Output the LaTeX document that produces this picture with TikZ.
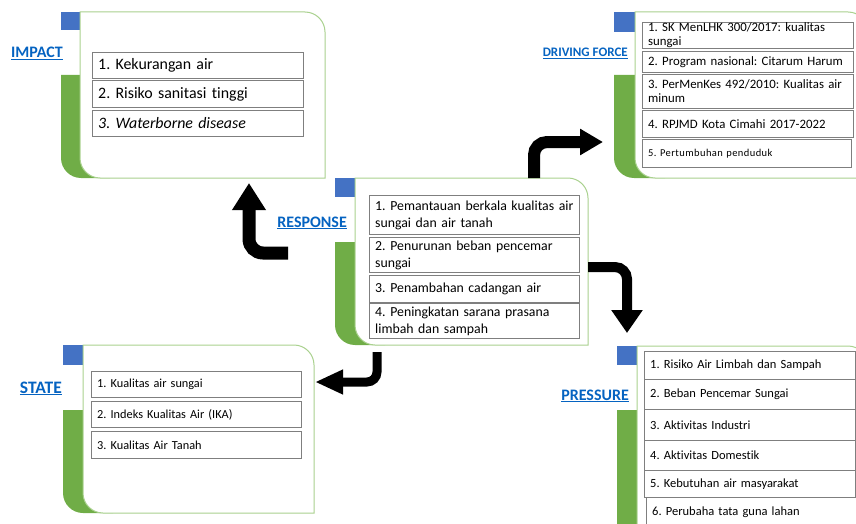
\documentclass[tikz,border=0pt]{standalone}
\usepackage{fontspec}
\setmainfont{Carlito}[Ligatures=NoCommon]
\usetikzlibrary{arrows.meta}
\frenchspacing

\definecolor{sqblue}{HTML}{4472C4}
\definecolor{bargreen}{HTML}{70AD47}
\definecolor{edgegreen}{HTML}{A9D18E}
\definecolor{labelblue}{HTML}{0563C1}
\definecolor{itemgray}{HTML}{7F7F7F}

\tikzset{
  paneledge/.style={draw=edgegreen, line width=1pt, fill=white},
  itembox/.style={draw=itemgray, line width=1pt, fill=white, anchor=north west, inner sep=0pt},
  itemtext/.style={anchor=west, inner xsep=0pt, inner ysep=0pt, align=left, text=black},
  dlabel/.style={text=labelblue, font=\fontsize{16}{19}\selectfont\bfseries, anchor=base east, inner sep=0pt},
  bigarrow/.style={draw=black, line cap=butt},
}

% Bracket panel: blue tab, green bar and white rounded card.
% #1 tab left, #2 card left, #3 top, #4 card right, #5 bottom, #6 tab bottom, #7 bar top
\newcommand\dpsirpanel[7]{%
  \fill[sqblue] (#1,#3) rectangle (#2,#6);
  \fill[bargreen] (#1,#7) -- ({#2+30},#7) -- ({#2+30},#5) -- ({#1+20},#5)
     .. controls ({#1+9},#5) and (#1,{#5-9}) .. (#1,{#5-20}) -- cycle;
  \draw[paneledge] (#2,#3) -- ({#4-20},#3)
     .. controls ({#4-9},#3) and (#4,{#3+9}) .. (#4,{#3+20}) -- (#4,#5) -- ({#2+20},#5)
     .. controls ({#2+9},#5) and (#2,{#5-9}) .. (#2,{#5-20}) -- cycle;
}

% List entry: #1 name, #2 left, #3 top, #4 right, #5 bottom, #6 text
\newcommand\listentry[6]{%
  \pgfmathsetmacro\entw{#4-#2}%
  \pgfmathsetmacro\enth{#5-#3}%
  \pgfmathsetmacro\entt{#4-#2-11}%
  \node[itembox, minimum width=\entw pt, minimum height=\enth pt] (#1) at (#2,#3) {};
  \node[itemtext, text width=\entt pt] (#1t) at ([xshift=6pt]#1.west) {#6};
}

\begin{document}
\begin{tikzpicture}[x=1pt, y=-1pt]
\useasboundingbox (0,0) rectangle (856,524);
\clip (0,0) rectangle (856,524);

% panels
\dpsirpanel{61}{80}{12}{325}{178}{30}{75}
\dpsirpanel{614}{635}{12}{868}{178}{32}{75}
\dpsirpanel{335}{355}{178}{588}{345}{197}{242}
\dpsirpanel{63}{83}{345}{314}{513}{365}{410}
\dpsirpanel{617}{637}{346}{868}{545}{365}{410}

% IMPACT
\node[dlabel] (impact) at (63,58) {\underline{IMPACT}};
\begin{scope}[font=\fontsize{15.9}{18}\selectfont]
\listentry{im1}{92}{52}{303}{78}{1. Kekurangan air}
\listentry{im2}{92}{80}{303}{107}{2. Risiko sanitasi tinggi}
\listentry{im3}{92}{110}{303}{136}{\itshape 3. Waterborne disease}
\end{scope}

% DRIVING FORCE
\node[dlabel, font=\fontsize{13}{15}\selectfont\bfseries] (driving) at (628,57) {\underline{DRIVING FORCE}};
\begin{scope}[font=\fontsize{12.8}{14}\selectfont]
\listentry{df1}{642}{22}{853}{48}{1. SK MenLHK 300/2017: kualitas\\sungai}
\listentry{df2}{642}{51}{853}{72}{2. Program nasional: Citarum Harum}
\listentry{df3}{642}{74}{853}{108}{3. PerMenKes 492/2010: Kualitas air\\minum}
\listentry{df4}{642}{110}{853}{137}{4. RPJMD Kota Cimahi 2017-2022}
\end{scope}
\begin{scope}[font=\fontsize{10.5}{13}\selectfont\addfontfeatures{LetterSpace=4}]
\listentry{df5}{642}{139}{851}{167}{5. Pertumbuhan penduduk}
\end{scope}

% RESPONSE
\node[dlabel] (response) at (347,227) {\underline{RESPONSE}};
\begin{scope}[font=\fontsize{13.8}{17}\selectfont]
\listentry{rs1}{369}{195}{579}{234}{1. Pemantauan berkala kualitas air\\sungai dan air tanah}
\listentry{rs2}{369}{237}{579}{272}{2. Penurunan beban pencemar\\sungai}
\listentry{rs3}{369}{275}{579}{302}{3. Penambahan cadangan air}
\listentry{rs4}{369}{303}{579}{338}{4. Peningkatan sarana prasana\\limbah dan sampah}
\end{scope}

% STATE
\node[dlabel, font=\fontsize{17.5}{20}\selectfont\bfseries] (state) at (62,393) {\underline{STATE}};
\begin{scope}[font=\fontsize{12.3}{14}\selectfont]
\listentry{st1}{91}{371}{301}{397}{1. Kualitas air sungai}
\listentry{st2}{91}{401}{301}{427}{2. Indeks Kualitas Air (IKA)}
\listentry{st3}{91}{431}{301}{458}{3. Kualitas Air Tanah}
\end{scope}

% PRESSURE
\node[dlabel] (pressure) at (629,400) {\underline{PRESSURE}};
\begin{scope}[font=\fontsize{12.5}{15}\selectfont]
\listentry{pr1}{644}{351}{855}{379}{1. Risiko Air Limbah dan Sampah}
\listentry{pr2}{644}{379}{855}{409}{2. Beban Pencemar Sungai}
\listentry{pr3}{644}{409}{855}{440}{3. Aktivitas Industri}
\listentry{pr4}{644}{440}{855}{470}{4. Aktivitas Domestik}
\listentry{pr5}{644}{470}{855}{497}{5. Kebutuhan air masyarakat}
\listentry{pr6}{646}{497}{857}{526}{6. Perubaha tata guna lahan}
\end{scope}

% connector end points
\coordinate (toImpactFrom) at (288,253);
\coordinate (toImpactTip)  at (249,183);
\coordinate (toDriveFrom)  at (534,178);
\coordinate (toDriveTip)   at (603,142);
\coordinate (toStateFrom)  at (377,352);
\coordinate (toStateTip)   at (315,382);
\coordinate (toPressFrom)  at (588,267);
\coordinate (toPressTip)   at (627,333);

% bent block arrows
\draw[bigarrow, line width=13pt, rounded corners=14pt, -{Triangle[width=32pt,length=27pt]}]
  (toImpactFrom) -| (toImpactTip);
\draw[bigarrow, line width=12pt, rounded corners=13pt, -{Triangle[width=25pt,length=23pt]}]
  (toDriveFrom) |- (toDriveTip);
\draw[bigarrow, line width=9pt, rounded corners=10pt, -{Triangle[width=23pt,length=28pt]}]
  (toStateFrom) |- (toStateTip);
\draw[bigarrow, line width=10pt, rounded corners=12pt, -{Triangle[width=30pt,length=23pt]}]
  (toPressFrom) -| (toPressTip);
\end{tikzpicture}
\end{document}
